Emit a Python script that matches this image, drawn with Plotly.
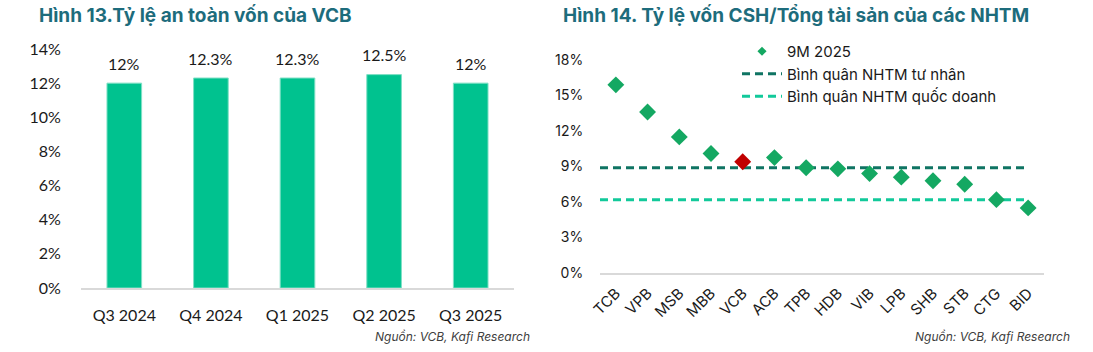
import plotly.graph_objects as go

# ---- Data ----
quarters = ["Q3 2024", "Q4 2024", "Q1 2025", "Q2 2025", "Q3 2025"]
car_values = [12, 12.3, 12.3, 12.5, 12]

banks = ["TCB", "VPB", "MSB", "MBB", "VCB", "ACB", "TPB", "HDB", "VIB", "LPB", "SHB", "STB", "CTG", "BID"]
equity_ratio = [15.9, 13.6, 11.5, 10.1, 9.4, 9.75, 8.9, 8.8, 8.4, 8.1, 7.8, 7.5, 6.2, 5.5]
private_avg = 8.9
state_avg = 6.2
highlight_bank = "VCB"

left_ticks = [0, 2, 4, 6, 8, 10, 12, 14]
right_ticks = [0, 3, 6, 9, 12, 15, 18]

# ---- Styles ----
BAR_COLOR = "#00C28F"
GREEN = "#14A862"
RED = "#C00000"
DARK_TEAL = "#0F7463"
LIGHT_GREEN = "#12C99A"
TITLE_COLOR = "#1D6C7C"
DASH = "8px,5px"
W, H = 1093, 352

fig = go.Figure()

# Left chart: bars
fig.add_trace(go.Bar(
    x=quarters, y=car_values, marker=dict(color=BAR_COLOR, line=dict(color="#7FE0C5", width=1)),
    width=0.4, xaxis="x", yaxis="y", showlegend=False, hoverinfo="skip",
))
for q, v in zip(quarters, car_values):
    fig.add_annotation(x=q, y=v, xref="x", yref="y", text=f"{v:g}%", showarrow=False,
                       yshift=20, font=dict(family="Lato", size=16, color="#1a1a1a"))

# Right chart: average lines (span from the plot's left edge to the last bank)
line_end = (len(banks) - 0.5) / len(banks)
for val, col in [(private_avg, DARK_TEAL), (state_avg, LIGHT_GREEN)]:
    fig.add_shape(type="line", xref="x2 domain", yref="y2", x0=0, x1=line_end, y0=val, y1=val,
                  line=dict(color=col, width=3, dash=DASH), layer="below")

# main markers (legend handled by a small proxy entry)
fig.add_trace(go.Scatter(
    x=banks, y=equity_ratio, mode="markers", name="9M 2025", showlegend=False,
    marker=dict(symbol="diamond", size=13,
                color=[RED if b == highlight_bank else GREEN for b in banks]),
    xaxis="x2", yaxis="y2", hoverinfo="skip",
))
# legend entries
fig.add_trace(go.Scatter(x=[None], y=[None], mode="markers", name="9M 2025",
                         marker=dict(symbol="diamond", size=7, color=GREEN),
                         xaxis="x2", yaxis="y2", legendrank=1))
fig.add_trace(go.Scatter(x=[None], y=[None], mode="lines", name="Bình quân NHTM tư nhân",
                         line=dict(color=DARK_TEAL, width=3, dash=DASH),
                         xaxis="x2", yaxis="y2", legendrank=2))
fig.add_trace(go.Scatter(x=[None], y=[None], mode="lines", name="Bình quân NHTM quốc doanh",
                         line=dict(color=LIGHT_GREEN, width=3, dash=DASH),
                         xaxis="x2", yaxis="y2", legendrank=3))


def px_x(p):
    return p / W


def px_y(p):
    return (H - p) / H


fig.update_layout(
    width=W, height=H, margin=dict(l=0, r=0, t=0, b=0),
    paper_bgcolor="white", plot_bgcolor="white",
    xaxis=dict(domain=[px_x(81), px_x(514)], showgrid=False, showline=True, linecolor="#D9D9D9",
               linewidth=1.5, ticks="outside", ticklen=12, tickcolor="rgba(0,0,0,0)",
               tickfont=dict(family="Lato", size=16, color="#1a1a1a"), anchor="y", automargin=False),
    yaxis=dict(domain=[px_y(288), px_y(49)], range=[0, 14], tickvals=left_ticks,
               ticktext=[f"{t}%" for t in left_ticks],
               showgrid=False, zeroline=False, showline=False,
               ticks="outside", ticklen=16, tickcolor="rgba(0,0,0,0)",
               tickfont=dict(family="Lato", size=16, color="#1a1a1a"), anchor="x", automargin=False),
    xaxis2=dict(domain=[px_x(600), px_x(1044)], range=[-0.5, len(banks) - 0.5],
                showgrid=False, showline=True, linecolor="#D9D9D9",
                linewidth=1.5, tickangle=-45, ticks="outside", ticklen=4, tickcolor="rgba(0,0,0,0)",
                tickfont=dict(family="Inter", size=15, color="#1a1a1a"), anchor="y2", automargin=False),
    yaxis2=dict(domain=[px_y(273), px_y(273 - 20 * 35.5 / 3)], range=[0, 20], tickvals=right_ticks,
                ticktext=[f"{t}%" for t in right_ticks],
                showgrid=False, zeroline=False, showline=False,
                ticks="outside", ticklen=13, tickcolor="rgba(0,0,0,0)",
                tickfont=dict(family="Inter", size=14, color="#1a1a1a"), anchor="x2", automargin=False),
    legend=dict(x=px_x(737), y=px_y(35), xanchor="left", yanchor="top", itemwidth=40,
                font=dict(family="Inter", size=15, color="#1a1a1a"),
                bgcolor="rgba(0,0,0,0)", tracegroupgap=0),
    showlegend=True,
)

fig.add_annotation(text="<b>Hình 13.Tỷ lệ an toàn vốn của VCB</b>", xref="paper", yref="paper",
                   x=px_x(37), y=px_y(16), xanchor="left", yanchor="middle", showarrow=False,
                   font=dict(family="Inter", size=19, color=TITLE_COLOR))
fig.add_annotation(text="<b>Hình 14. Tỷ lệ vốn CSH/Tổng tài sản của các NHTM</b>", xref="paper", yref="paper",
                   x=px_x(561), y=px_y(16), xanchor="left", yanchor="middle", showarrow=False,
                   font=dict(family="Inter", size=19, color=TITLE_COLOR))
fig.add_annotation(text="<i>Nguồn: VCB, Kafi Research</i>", xref="paper", yref="paper",
                   x=px_x(532), y=px_y(336), xanchor="right", yanchor="middle", showarrow=False,
                   font=dict(family="Inter", size=12, color="#404040"))
fig.add_annotation(text="<i>Nguồn: VCB, Kafi Research</i>", xref="paper", yref="paper",
                   x=px_x(1072), y=px_y(336), xanchor="right", yanchor="middle", showarrow=False,
                   font=dict(family="Inter", size=12, color="#404040"))

fig.write_html("out.html")
